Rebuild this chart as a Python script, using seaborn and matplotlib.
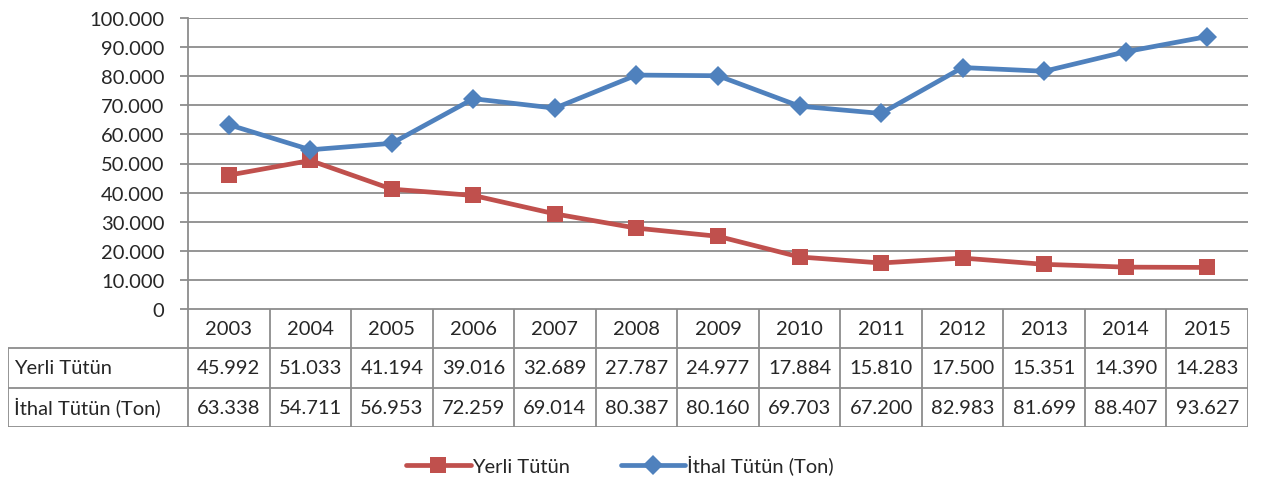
import numpy as np
import pandas as pd
import seaborn as sns
import matplotlib.pyplot as plt
from matplotlib.ticker import FuncFormatter, MultipleLocator
from matplotlib.lines import Line2D

# ── Data ──────────────────────────────────────────────────────────────────────
years = [2003, 2004, 2005, 2006, 2007, 2008, 2009, 2010, 2011, 2012, 2013, 2014, 2015]
yerli = [45992, 51033, 41194, 39016, 32689, 27787, 24977, 17884, 15810, 17500, 15351, 14390, 14283]
ithal = [63338, 54711, 56953, 72259, 69014, 80387, 80160, 69703, 67200, 82983, 81699, 88407, 93627]
series_names = ["Yerli Tütün", "İthal Tütün (Ton)"]

RED = "#C0504D"
BLUE = "#4F81BD"
GRID = "#8C8C8C"

sns.set_style("white")
plt.rcParams["font.family"] = ["Lato", "DejaVu Sans"]
FS = 14.5
LW = 3.4


def tr_fmt(v, _pos=None):
    v = int(round(v))
    return "0" if v == 0 else f"{v:,}".replace(",", ".")


W, H = 1262, 481
fig = plt.figure(figsize=(W / 100, H / 100), dpi=100)

# pixel layout
x0, x1 = 188, 1248
y_top, y_bot = 19, 310
ax = fig.add_axes([x0 / W, 1 - y_bot / H, (x1 - x0) / W, (y_bot - y_top) / H])

sns.lineplot(x=years, y=yerli, ax=ax, color=RED, lw=LW, marker="s",
             markersize=12, markeredgewidth=0, label=series_names[0])
sns.lineplot(x=years, y=ithal, ax=ax, color=BLUE, lw=LW, marker="D",
             markersize=10.5, markeredgewidth=0, label=series_names[1])

ax.set_xlim(years[0] - 0.5, years[-1] + 0.5)
ax.set_ylim(0, 100000)
ax.yaxis.set_major_locator(MultipleLocator(10000))
ax.yaxis.set_major_formatter(FuncFormatter(tr_fmt))
ax.grid(axis="y", color=GRID, lw=1.3)
ax.set_axisbelow(True)
ax.set_xticks([])
ax.tick_params(axis="y", length=6, width=1.3, color=GRID, pad=11, labelsize=FS, left=True)
for side in ["top", "right", "bottom"]:
    ax.spines[side].set_visible(False)
ax.spines["left"].set_color(GRID)
ax.spines["left"].set_linewidth(1.3)
ax.legend_.remove()

# ── Data table under the plot ─────────────────────────────────────────────────
lab_x0 = 8
col_w = (x1 - x0) / len(years)
t_bot = 428
tax = fig.add_axes([lab_x0 / W, 1 - t_bot / H, (x1 - lab_x0) / W, (t_bot - y_bot) / H])
tax.set_xlim(years[0] - 0.5 - (x0 - lab_x0) / col_w, years[-1] + 0.5)
tax.set_ylim(0, 3)
tax.axis("off")

edges = [y - 0.5 for y in years] + [years[-1] + 0.5]
left = tax.get_xlim()[0]
lk = dict(color=GRID, lw=1.3)
tax.vlines(edges, 0, 3, **lk)
tax.vlines(left, 0, 2, **lk)
tax.hlines([2, 1, 0], left, edges[-1], **lk)
tax.hlines(3, edges[0], edges[-1], **lk)

for yr in years:
    tax.text(yr, 2.5, str(yr), ha="center", va="center", fontsize=FS)
rows = [yerli, ithal]
for r, (name, vals) in enumerate(zip(series_names, rows)):
    yc = 1.5 - r
    tax.text(left + 0.07, yc, name, ha="left", va="center", fontsize=FS)
    for yr, v in zip(years, vals):
        tax.text(yr, yc, tr_fmt(v), ha="center", va="center", fontsize=FS)

# ── Legend ────────────────────────────────────────────────────────────────────
handles = [
    Line2D([], [], color=RED, lw=LW, marker="s", markersize=12, markeredgewidth=0),
    Line2D([], [], color=BLUE, lw=LW, marker="D", markersize=10.5, markeredgewidth=0),
]
fig.legend(handles, series_names, loc="center", bbox_to_anchor=(620 / W, 1 - 466 / H),
           ncol=2, frameon=False, fontsize=FS, handlelength=3.2, handletextpad=0.1,
           columnspacing=2.5)

fig.savefig("out.png", dpi=100)
